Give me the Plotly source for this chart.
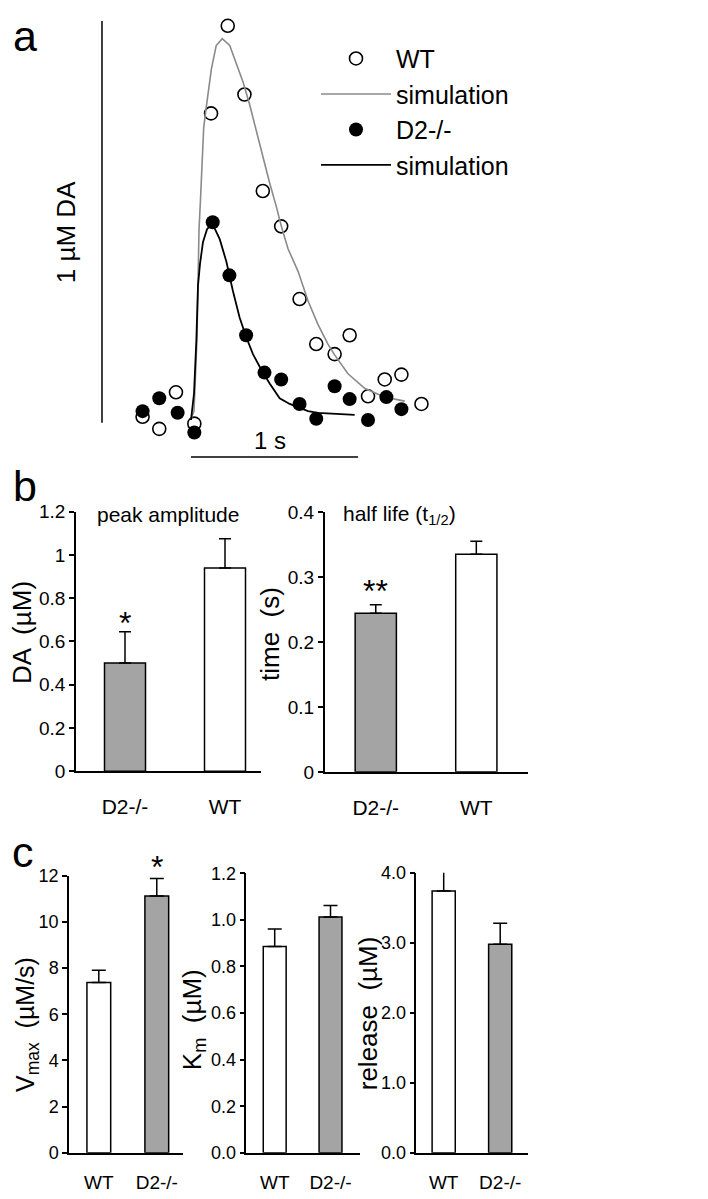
import plotly.graph_objects as go

W, H = 708, 1199
FONT = "Liberation Sans, Arial, Helvetica, sans-serif"
BAR_GREY = "#a4a4a4"
SIM_GREY = "#8a8a8a"

# ---- panel a: evoked DA transients (time in s, DA in µM)
wt_t = [-0.29, -0.19, -0.09, 0.02, 0.12, 0.22, 0.32, 0.43, 0.54, 0.65, 0.75, 0.86, 0.95, 1.06, 1.16, 1.26, 1.38]
wt_da = [0.010, -0.020, 0.071, -0.007, 0.765, 0.983, 0.812, 0.572, 0.484, 0.303, 0.191, 0.166, 0.213, 0.061, 0.103, 0.115, 0.042]
d2_t = [-0.29, -0.19, -0.08, 0.02, 0.13, 0.23, 0.33, 0.44, 0.54, 0.65, 0.75, 0.86, 0.95, 1.06, 1.17, 1.26]
d2_da = [0.024, 0.056, 0.020, -0.029, 0.494, 0.362, 0.213, 0.120, 0.103, 0.042, 0.005, 0.086, 0.054, 0.002, 0.059, 0.029]

wt_sim_t = [0.000, 0.018, 0.036, 0.048, 0.056, 0.066, 0.076, 0.088, 0.102, 0.122, 0.151, 0.187, 0.232, 0.271,
            0.311, 0.351, 0.391, 0.431, 0.471, 0.511, 0.541, 0.581, 0.641, 0.701, 0.760, 0.820, 0.860, 0.940,
            1.040, 1.120, 1.220, 1.280]
wt_sim_da = [0.005, 0.024, 0.208, 0.477, 0.543, 0.648, 0.729, 0.770, 0.812, 0.875, 0.934, 0.951, 0.934, 0.892,
             0.844, 0.787, 0.721, 0.655, 0.592, 0.533, 0.484, 0.428, 0.372, 0.298, 0.240, 0.191, 0.164, 0.117,
             0.081, 0.066, 0.054, 0.049]
d2_sim_t = [0.000, 0.018, 0.032, 0.042, 0.054, 0.072, 0.096, 0.128, 0.172, 0.212, 0.251, 0.291, 0.331, 0.371,
            0.421, 0.471, 0.531, 0.591, 0.651, 0.701, 0.760, 0.860, 0.980]
d2_sim_da = [0.002, 0.068, 0.200, 0.337, 0.391, 0.445, 0.477, 0.491, 0.452, 0.396, 0.323, 0.257, 0.208, 0.166,
             0.127, 0.093, 0.056, 0.042, 0.032, 0.024, 0.020, 0.017, 0.015]

scale_da = 1.0   # µM
scale_t = 1.0    # s

# ---- panel b
b_groups = ["D2-/-", "WT"]
peak_mean = [0.50, 0.94]
peak_sem = [0.145, 0.135]
half_mean = [0.244, 0.335]
half_sem = [0.013, 0.020]

# ---- panel c
c_groups = ["WT", "D2-/-"]
vmax_mean = [7.38, 11.12]
vmax_sem = [0.53, 0.76]
km_mean = [0.886, 1.013]
km_sem = [0.075, 0.049]
rel_mean = [3.74, 2.98]
rel_sem = [0.34, 0.30]


def dom_x(left, right):
    return [left / W, right / W]


def dom_y(top, bottom):
    return [1 - bottom / H, 1 - top / H]


fig = go.Figure()

# panel a: 183 px = 0 s, 167 px per s; 410 px = 0 µM, 409 px per µM
fig.add_trace(go.Scatter(
    x=wt_t, y=wt_da, name="WT", mode="markers",
    marker=dict(symbol="circle-open", size=13, color="black", line=dict(width=1.6)),
))
fig.add_trace(go.Scatter(
    x=wt_sim_t, y=wt_sim_da, name="simulation", mode="lines",
    line=dict(color=SIM_GREY, width=1.6),
))
fig.add_trace(go.Scatter(
    x=d2_t, y=d2_da, name="D2-/-", mode="markers",
    marker=dict(symbol="circle", size=14, color="black"),
))
fig.add_trace(go.Scatter(
    x=d2_sim_t, y=d2_sim_da, name="simulation", mode="lines",
    line=dict(color="black", width=1.8),
))

fig.update_layout(
    xaxis=dict(domain=dom_x(80, 450), range=[(80 - 183) / 167, (450 - 183) / 167], visible=False),
    yaxis=dict(domain=dom_y(0, 470), range=[(410 - 470) / 409, 410 / 409], visible=False),
)

# scale bars
fig.add_shape(type="line", xref="x", yref="y", x0=-0.533, x1=-0.533, y0=-0.005, y1=-0.005 + scale_da,
              line=dict(color="black", width=1.5))
fig.add_shape(type="line", xref="x", yref="y", x0=0, x1=scale_t, y0=-0.09, y1=-0.09,
              line=dict(color="black", width=1.5))


def bar_panel(n, groups, mean, sem, fills, xdom, ydom, xrange, yrange, ytickvals, tickfmt,
              tickfont, catfont, standoff, capw):
    fig.add_trace(go.Bar(
        x=groups, y=mean, xaxis=f"x{n}", yaxis=f"y{n}", width=0.41,
        marker=dict(color=fills, line=dict(color="black", width=1.5)),
        error_y=dict(type="data", array=sem, arrayminus=[0] * len(sem), symmetric=False,
                     color="black", thickness=1.5, width=capw),
        showlegend=False, cliponaxis=False,
    ))
    fig.update_layout({
        f"xaxis{n}": dict(domain=xdom, range=xrange, anchor=f"y{n}", type="category",
                          showline=True, linecolor="black", linewidth=1.5, ticks="",
                          showgrid=False, zeroline=False, tickfont=dict(size=catfont, color="black"),
                          ticklabelstandoff=standoff),
        f"yaxis{n}": dict(domain=ydom, range=yrange, anchor=f"x{n}", showline=True,
                          linecolor="black", linewidth=1.5, ticks="outside", ticklen=5,
                          tickwidth=1.5, tickcolor="black", tickvals=ytickvals, tickformat=tickfmt,
                          showgrid=False, zeroline=False, tickfont=dict(size=tickfont, color="black")),
    })


bar_panel(2, b_groups, peak_mean, peak_sem, [BAR_GREY, "white"], dom_x(68, 253), dom_y(502.5, 766.7),
          [-0.49, 1.36], [0, 1.2], [0, 0.2, 0.4, 0.6, 0.8, 1.0, 1.2], "", 19, 21, 16, 6)
bar_panel(3, b_groups, half_mean, half_sem, [BAR_GREY, "white"], dom_x(316.7, 520), dom_y(502.7, 767.3),
          [-0.508, 1.514], [0, 0.4], [0, 0.1, 0.2, 0.3, 0.4], "", 19, 21, 16, 6)
bar_panel(4, c_groups, vmax_mean, vmax_sem, ["white", BAR_GREY], dom_x(61, 175), dom_y(873, 1155),
          [-0.514, 1.452], [0, 12], [0, 2, 4, 6, 8, 10, 12], "", 18, 19, 12, 7)
bar_panel(5, c_groups, km_mean, km_sem, ["white", BAR_GREY], dom_x(238.3, 351.7), dom_y(870.6, 1155),
          [-0.509, 1.523], [0, 1.2], [0, 0.2, 0.4, 0.6, 0.8, 1.0, 1.2], ".1f", 18, 19, 12, 7)
bar_panel(6, c_groups, rel_mean, rel_sem, ["white", BAR_GREY], dom_x(408.3, 520), dom_y(870, 1155),
          [-0.485, 1.492], [0, 4], [0, 1, 2, 3, 4], ".1f", 18, 19, 12, 7)


def text_px(text, x, y, size, angle=0):
    fig.add_annotation(text=text, x=x / W, y=1 - y / H, xref="paper", yref="paper",
                       xanchor="center", yanchor="middle", showarrow=False, textangle=angle,
                       font=dict(size=size, color="black"))


# panel letters
text_px("a", 17, 18, 43)
text_px("b", 17, 476, 43)
text_px("c", 15, 849, 43)

# panel a labels
text_px("1 µM DA", 58, 218, 26, -90)
text_px("1 s", 262, 430, 24)

# panel titles and axis titles
text_px("peak amplitude", 160, 505, 21)
text_px("half life (t<sub>1/2</sub>)", 391, 506, 21)
text_px("DA  (µM)", 14, 626, 26, -90)
text_px("time  (s)", 262, 627, 26, -90)
text_px("V<sub>max</sub>  (µM/s)", 19, 1025, 25, -90)
text_px("K<sub>m</sub>  (µM)", 185, 1020, 26, -90)
text_px("release  (µM)", 360, 1013, 26, -90)

# significance marks
for xr, yr, grp, top, mark, shift in [
    ("x2", "y2", "D2-/-", peak_mean[0] + peak_sem[0], "*", 9),
    ("x3", "y3", "D2-/-", half_mean[0] + half_sem[0], "**", 14),
    ("x4", "y4", "D2-/-", vmax_mean[1] + vmax_sem[1], "*", 11),
]:
    fig.add_annotation(text=mark, x=grp, y=top, xref=xr, yref=yr, showarrow=False,
                       yanchor="middle", yshift=shift, font=dict(size=32, color="black"))

fig.update_layout(
    width=W, height=H,
    margin=dict(l=0, r=0, t=0, b=0),
    paper_bgcolor="white", plot_bgcolor="white",
    font=dict(family=FONT, color="black"),
    showlegend=True,
    legend=dict(x=308 / W, y=1 - 18 / H, xanchor="left", yanchor="top",
                font=dict(size=25, color="black"), bgcolor="rgba(0,0,0,0)",
                tracegroupgap=0, itemwidth=70),
)

fig.write_html("out.html")
